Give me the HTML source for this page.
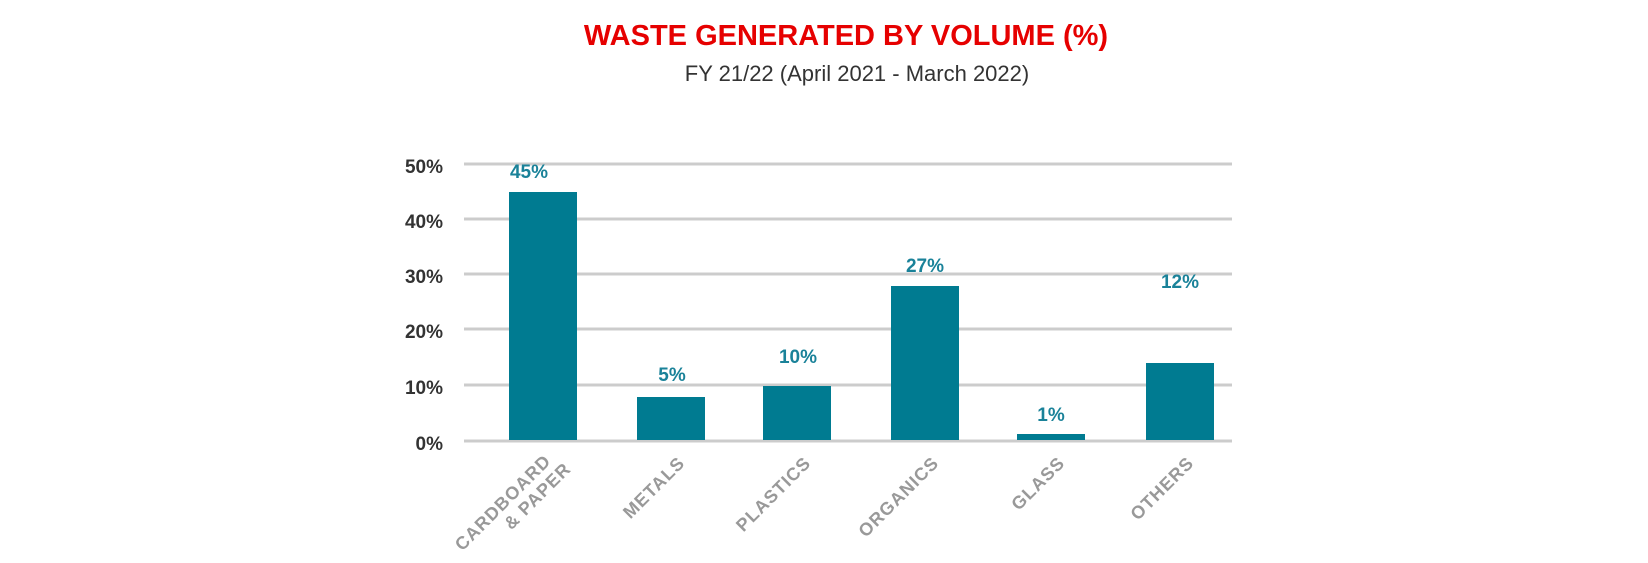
<!DOCTYPE html>
<html><head><meta charset="utf-8"><style>
html,body{margin:0;padding:0;background:#fff;}
svg{display:block;}
</style></head><body>
<svg width="1648" height="563" viewBox="0 0 1648 563" xmlns="http://www.w3.org/2000/svg" font-family="Liberation Sans, sans-serif">
<text x="846" y="45" text-anchor="middle" font-size="29" font-weight="bold" fill="#e60000">WASTE GENERATED BY VOLUME (%)</text>
<text x="857" y="81" text-anchor="middle" font-size="22" fill="#333">FY 21/22 (April 2021 - March 2022)</text>
<g stroke="#cccccc" stroke-width="3">
<line x1="464" y1="164" x2="1232" y2="164"/>
<line x1="464" y1="219" x2="1232" y2="219"/>
<line x1="464" y1="274" x2="1232" y2="274"/>
<line x1="464" y1="329" x2="1232" y2="329"/>
<line x1="464" y1="385" x2="1232" y2="385"/>
<line x1="464" y1="441" x2="1232" y2="441"/>
</g>
<g font-size="19" font-weight="bold" fill="#333" text-anchor="end">
<text x="443" y="173">50%</text>
<text x="443" y="228">40%</text>
<text x="443" y="283">30%</text>
<text x="443" y="338">20%</text>
<text x="443" y="394">10%</text>
<text x="443" y="450">0%</text>
</g>
<g fill="#007b91">
<rect x="509" y="192" width="68" height="248"/>
<rect x="637" y="397" width="68" height="43"/>
<rect x="763" y="386" width="68" height="54"/>
<rect x="891" y="286" width="68" height="154"/>
<rect x="1017" y="434" width="68" height="6"/>
<rect x="1146" y="363" width="68" height="77"/>
</g>
<g font-size="19" font-weight="bold" fill="#1a8299" text-anchor="middle">
<text x="529" y="178">45%</text>
<text x="672" y="381">5%</text>
<text x="798" y="363">10%</text>
<text x="925" y="272">27%</text>
<text x="1051" y="421">1%</text>
<text x="1180" y="288">12%</text>
</g>
<g font-size="18" font-weight="bold" fill="#999" text-anchor="end" letter-spacing="1">
<text transform="translate(552,462) rotate(-45)">CARDBOARD</text>
<text transform="translate(572,470) rotate(-45)">&amp; PAPER</text>
<text transform="translate(686,464) rotate(-45)">METALS</text>
<text transform="translate(812,464) rotate(-45)">PLASTICS</text>
<text transform="translate(940,464) rotate(-45)">ORGANICS</text>
<text transform="translate(1066,464) rotate(-45)">GLASS</text>
<text transform="translate(1195,464) rotate(-45)">OTHERS</text>
</g>
</svg>
</body></html>
